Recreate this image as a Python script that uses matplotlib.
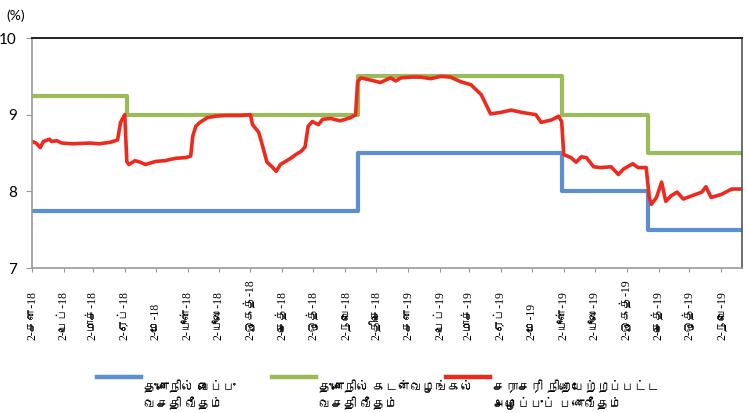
import datetime as dt
import matplotlib
matplotlib.use('Agg')
import matplotlib.pyplot as plt
from matplotlib.lines import Line2D
from matplotlib import font_manager
from matplotlib.ft2font import FT2Font

# look for an installed font that has Tamil glyphs
tamil_family = None
for f in font_manager.fontManager.ttflist:
    try:
        if ord('த') in FT2Font(f.fname).get_charmap():
            tamil_family = f.name
            break
    except Exception:
        pass
tick_fam = ['Liberation Serif'] + ([tamil_family] if tamil_family else [])
text_fam = ['DejaVu Sans'] + ([tamil_family] if tamil_family else [])
plt.rcParams['font.family'] = ['Lato', 'DejaVu Sans']

# standing deposit facility rate (blue)
sdf_dates = ['2018-01-02', '2018-11-14', '2019-05-31', '2019-08-23', '2019-11-22']
sdf_vals = [7.75, 8.50, 8.00, 7.50, 7.50]

# standing lending facility rate (green)
slf_dates = ['2018-01-02', '2018-04-04', '2018-11-14', '2019-05-31', '2019-08-23', '2019-11-22']
slf_vals = [9.25, 9.00, 9.50, 9.00, 8.50, 8.50]

# average weighted call money rate (red)
awcm_dates = ['2018-01-02', '2018-01-06', '2018-01-10', '2018-01-13', '2018-01-19', '2018-01-21',
              '2018-01-26', '2018-01-31', '2018-02-10', '2018-02-27', '2018-03-08', '2018-03-19',
              '2018-03-26', '2018-03-29',
              '2018-04-02', '2018-04-04', '2018-04-06', '2018-04-12', '2018-04-17', '2018-04-22',
              '2018-05-02', '2018-05-11', '2018-05-21', '2018-05-31', '2018-06-05', '2018-06-07',
              '2018-06-10', '2018-06-14', '2018-06-21', '2018-06-29', '2018-07-09', '2018-07-23',
              '2018-08-02', '2018-08-04', '2018-08-10', '2018-08-14', '2018-08-18', '2018-08-23',
              '2018-08-27', '2018-08-31', '2018-09-05', '2018-09-10', '2018-09-15', '2018-09-20',
              '2018-09-24', '2018-09-27', '2018-10-01', '2018-10-07', '2018-10-11', '2018-10-19',
              '2018-10-28', '2018-11-07', '2018-11-12', '2018-11-14', '2018-11-17', '2018-11-27',
              '2018-12-06', '2018-12-16', '2018-12-21', '2018-12-26', '2019-01-05', '2019-01-14',
              '2019-01-24', '2019-02-03', '2019-02-12', '2019-02-22', '2019-03-04', '2019-03-14',
              '2019-03-23', '2019-04-02',
              '2019-04-12', '2019-04-22', '2019-05-06', '2019-05-11', '2019-05-21', '2019-05-28',
              '2019-05-31', '2019-06-02', '2019-06-09', '2019-06-14', '2019-06-19', '2019-06-24',
              '2019-07-01', '2019-07-08', '2019-07-18', '2019-07-25', '2019-07-30', '2019-08-08',
              '2019-08-13', '2019-08-21', '2019-08-24', '2019-08-26', '2019-08-31', '2019-09-05',
              '2019-09-09', '2019-09-14', '2019-09-20', '2019-09-26', '2019-10-04', '2019-10-14',
              '2019-10-18', '2019-10-23', '2019-11-02', '2019-11-12', '2019-11-21']
awcm_vals = [8.65, 8.63, 8.57, 8.65, 8.68, 8.65,
             8.66, 8.63, 8.62, 8.63, 8.62, 8.64,
             8.67, 8.90,
             9.00, 8.39, 8.35, 8.40, 8.38, 8.35,
             8.39, 8.40, 8.43, 8.44, 8.46, 8.72,
             8.85, 8.90, 8.96, 8.98, 8.99, 8.99,
             9.00, 8.87, 8.77, 8.58, 8.38, 8.32,
             8.26, 8.35, 8.39, 8.43, 8.48, 8.52,
             8.58, 8.85, 8.91, 8.87, 8.94, 8.95,
             8.92, 8.96, 9.00, 9.43, 9.48, 9.45,
             9.42, 9.48, 9.44, 9.48, 9.49, 9.49,
             9.47, 9.50, 9.49, 9.43, 9.39, 9.26,
             9.01, 9.03,
             9.06, 9.03, 9.00, 8.90, 8.93, 8.98,
             8.91, 8.48, 8.44, 8.38, 8.45, 8.44,
             8.32, 8.31, 8.32, 8.22, 8.29, 8.36,
             8.31, 8.31, 7.92, 7.83, 7.92, 8.12,
             7.87, 7.94, 7.99, 7.90, 7.94, 7.99,
             8.06, 7.92, 7.96, 8.03, 8.03]

tick_labels = ['2-சன-18', '2-பெப்-18', '2-மாச்-18', '2-ஏப்-18', '2-மே-18', '2-யூன்-18',
               '2-யூலை-18', '2-ஓகத்-18', '2-செத்-18', '2-ஒத்-18', '2-நவெ-18', '2-திசெ-18',
               '2-சன-19', '2-பெப்-19', '2-மாச்-19', '2-ஏப்-19', '2-மே-19', '2-யூன்-19',
               '2-யூலை-19', '2-ஓகத்-19', '2-செத்-19', '2-ஒத்-19', '2-நவெ-19']
legend_labels = ['துணைநில் வைப்பு\nவசதி வீதம்',
                 'துணைநில் கடன்வழங்கல்\nவசதி வீதம்',
                 'சராசரி நிறையேற்றப்பட்ட\nஅழைப்புப் பணவீதம்']
colors = ['#5b8fcf', '#9bbb59', '#ee2a1e']


def to_dates(lst):
    return [dt.datetime.strptime(s, '%Y-%m-%d') for s in lst]


fig = plt.figure(figsize=(7.48, 4.13), dpi=100)
ax = fig.add_axes([32 / 748, 1 - 268 / 413, 710 / 748, 230 / 413])

ax.plot(to_dates(sdf_dates), sdf_vals, drawstyle='steps-post', color=colors[0], lw=3.0)
ax.plot(to_dates(slf_dates), slf_vals, drawstyle='steps-post', color=colors[1], lw=3.0)
ax.plot(to_dates(awcm_dates), awcm_vals, color=colors[2], lw=2.6)

ax.set_xlim(dt.datetime(2018, 1, 2), dt.datetime(2019, 11, 22))
ax.set_ylim(7, 10)
ax.set_yticks([7, 8, 9, 10])
ax.tick_params(axis='y', labelsize=11, length=4, color='#999999', pad=7)

ticks = [dt.datetime(2018 + (i // 12), i % 12 + 1, 2) for i in range(len(tick_labels))]
ax.set_xticks(ticks)
ax.set_xticklabels(tick_labels, rotation=90, fontsize=8.5, family=tick_fam)
# labels sit on a common bottom line, like excel does
ax.tick_params(axis='x', length=3, color='#999999', pad=48.5)
for lab in ax.get_xticklabels():
    lab.set_va('bottom')

for s in ['left', 'bottom']:
    ax.spines[s].set_color('#999999')
    ax.spines[s].set_linewidth(1.2)
ax.spines['top'].set_color('#222222')
ax.spines['top'].set_linewidth(1.4)
ax.spines['right'].set_color('#555555')
ax.spines['right'].set_linewidth(1.2)

fig.text(6 / 748, 1 - 16 / 413, '(%)', fontsize=10, va='center')

# legend drawn by hand: short line, two-line label to its right
leg_x = [97, 272, 446]
for x, lab, c in zip(leg_x, legend_labels, colors):
    fig.add_artist(Line2D([x / 748, (x + 44) / 748], [1 - 377 / 413] * 2,
                          transform=fig.transFigure, color=c, lw=3.2))
    fig.text((x + 47) / 748, 1 - 381 / 413, lab, va='top', ha='left',
             fontsize=9, family=text_fam, linespacing=1.3)

fig.savefig('out.png', dpi=100)
